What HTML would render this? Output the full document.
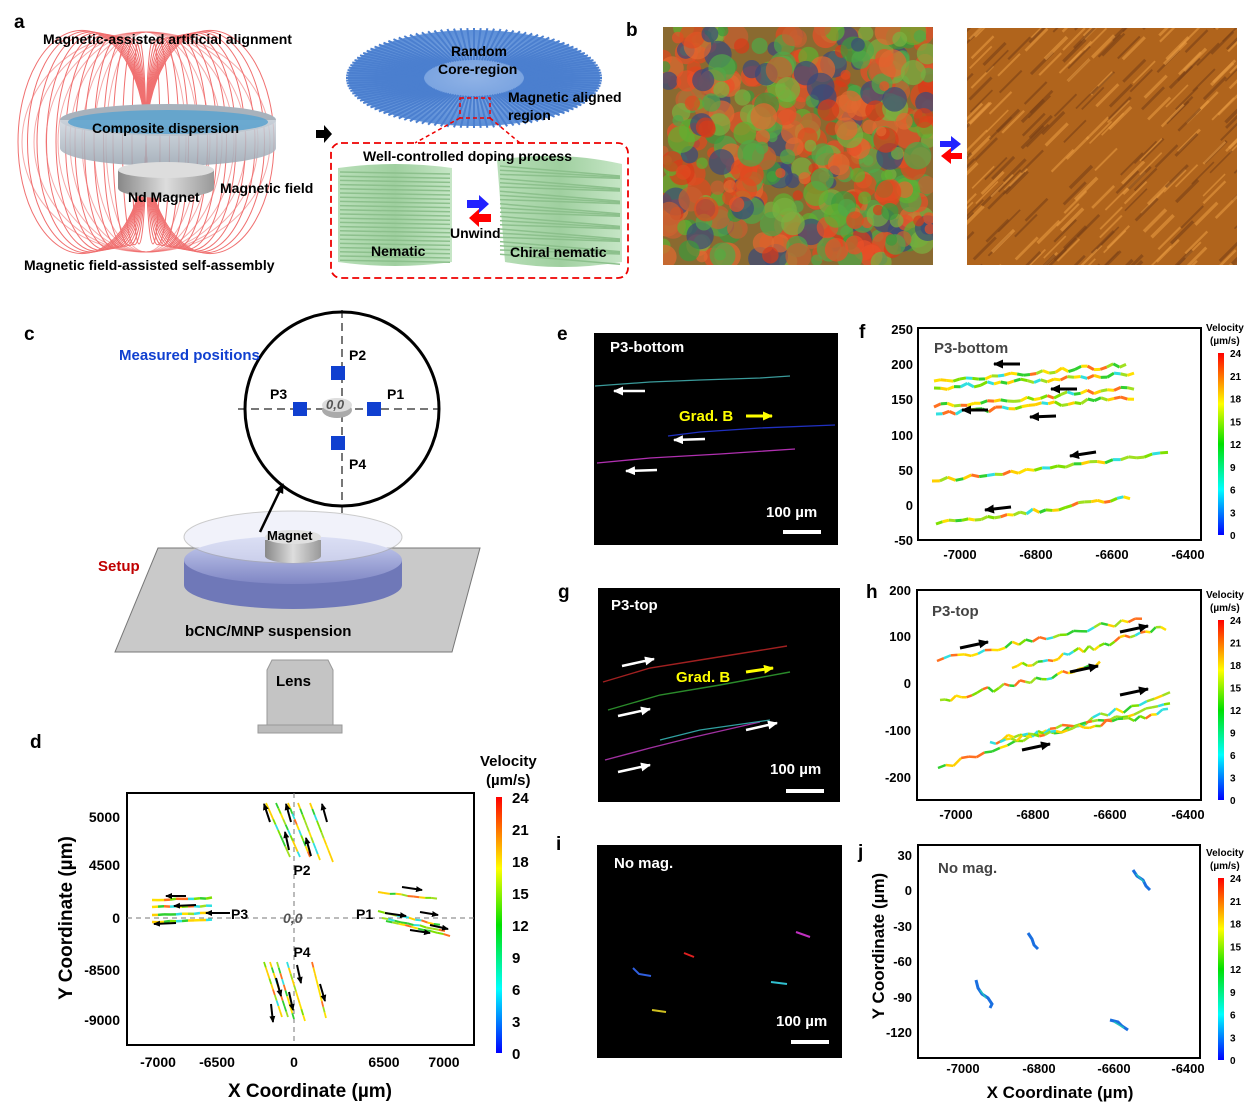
<!DOCTYPE html>
<html><head><meta charset="utf-8"><style>
html,body{margin:0;padding:0;background:#fff}
svg{display:block;font-family:"Liberation Sans",Arial,sans-serif;font-weight:bold}
</style></head><body>
<svg id="s" width="1252" height="1118" viewBox="0 0 1252 1118" xmlns="http://www.w3.org/2000/svg">
<defs>
<linearGradient id="cb" x1="0" y1="1" x2="0" y2="0">
<stop offset="0" stop-color="#0000ff"/><stop offset="0.25" stop-color="#00ffff"/><stop offset="0.5" stop-color="#00e000"/><stop offset="0.72" stop-color="#ffff00"/><stop offset="1" stop-color="#ff0000"/></linearGradient>
<linearGradient id="dish" x1="0" y1="0" x2="0" y2="1"><stop offset="0" stop-color="#cfd6de"/><stop offset="1" stop-color="#98a4b0"/></linearGradient>
<linearGradient id="mag" x1="0" y1="0" x2="1" y2="0"><stop offset="0" stop-color="#888"/><stop offset="0.5" stop-color="#ddd"/><stop offset="1" stop-color="#999"/></linearGradient>
<radialGradient id="bl" cx="0.5" cy="0.5" r="0.5"><stop offset="0" stop-color="#8fb2e6"/><stop offset="1" stop-color="#5c8fd8"/></radialGradient>
<linearGradient id="gr" x1="0" y1="0" x2="1" y2="0"><stop offset="0" stop-color="#b9dfb9"/><stop offset="0.5" stop-color="#9fcf9f"/><stop offset="1" stop-color="#c6e6c6"/></linearGradient>
<linearGradient id="setup" x1="0" y1="0" x2="0" y2="1"><stop offset="0" stop-color="#c9d0f0"/><stop offset="1" stop-color="#7f86c4"/></linearGradient>
<marker id="ak" markerUnits="userSpaceOnUse" markerWidth="10" markerHeight="9" refX="9" refY="4.5" orient="auto"><path d="M0,0 L10,4.5 L0,9 z" fill="#000"/></marker>
<marker id="aw" markerUnits="userSpaceOnUse" markerWidth="10" markerHeight="9" refX="9" refY="4.5" orient="auto"><path d="M0,0 L10,4.5 L0,9 z" fill="#fff"/></marker>
<marker id="ay" markerUnits="userSpaceOnUse" markerWidth="10" markerHeight="9" refX="9" refY="4.5" orient="auto"><path d="M0,0 L10,4.5 L0,9 z" fill="#ff0"/></marker>
<marker id="as" markerUnits="userSpaceOnUse" markerWidth="7" markerHeight="6" refX="6" refY="3" orient="auto"><path d="M0,0 L7,3 L0,6 z" fill="#000"/></marker>
<clipPath id="cl1"><rect x="663" y="27" width="270" height="238"/></clipPath>
<clipPath id="cl2"><rect x="967" y="28" width="270" height="237"/></clipPath>
</defs>

<g font-size="19" fill="#000">
<text x="14" y="28">a</text><text x="626" y="36">b</text><text x="24" y="340">c</text>
<text x="30" y="748">d</text><text x="557" y="340">e</text><text x="859" y="338">f</text>
<text x="558" y="598">g</text><text x="866" y="598">h</text><text x="556" y="850">i</text><text x="858" y="858">j</text>
</g>

<!-- panel a -->
<g id="field" fill="none" stroke="#f07070" stroke-width="1"></g>
<ellipse cx="168" cy="120" rx="108" ry="16" fill="#a8b2bc"/>
<path d="M60,120 L60,148 A108,18 0 0 0 276,148 L276,120 z" fill="url(#dish)" opacity="0.85"/>
<ellipse cx="168" cy="122" rx="100" ry="12" fill="#5ba2cf" opacity="0.85"/>
<path d="M118,170 L118,188 A48,10 0 0 0 214,188 L214,170 z" fill="url(#mag)"/>
<ellipse cx="166" cy="170" rx="48" ry="8" fill="#ddd"/>
<g font-size="14" fill="#000">
<text x="43" y="44">Magnetic-assisted artificial alignment</text>
<text x="92" y="133">Composite dispersion</text>
<text x="128" y="202">Nd Magnet</text>
<text x="220" y="193">Magnetic field</text>
<text x="24" y="270">Magnetic field-assisted self-assembly</text>
</g>
<path d="M316,130 l8,0 0,-5 8,9 -8,9 0,-5 -8,0z" fill="#000"/>
<ellipse cx="474" cy="78" rx="126" ry="48" fill="url(#bl)"/>
<g id="spikes" stroke="#4b7fcf" stroke-width="2"></g>
<rect x="460" y="98" width="30" height="20" fill="none" stroke="#e00" stroke-width="1.5" stroke-dasharray="4,3"/>
<path d="M460,118 L415,143 M490,118 L520,143" stroke="#e00" stroke-width="1.5" stroke-dasharray="4,3"/>
<rect x="331" y="143" width="297" height="135" rx="10" fill="none" stroke="#e00" stroke-width="1.8" stroke-dasharray="7,4"/>
<path d="M338,168 Q395,160 452,168 L452,262 Q395,270 338,262z" fill="url(#gr)"/>
<path d="M497,160 Q560,150 622,164 L622,262 Q560,272 505,262z" fill="url(#gr)"/>
<g id="gl" stroke="#8cc08c" stroke-width="1.5"></g>
<path d="M467,200 h12 v-5 l10,9 -10,9 v-5 h-12z" fill="#22f"/>
<path d="M491,214 h-12 v-5 l-10,9 10,9 v-5 h12z" fill="#f00"/>
<g font-size="14" fill="#000">
<text x="451" y="56">Random</text><text x="438" y="74">Core-region</text>
<text x="508" y="102">Magnetic aligned</text><text x="508" y="120">region</text>
<text x="363" y="161">Well-controlled doping process</text>
<text x="450" y="238">Unwind</text><text x="371" y="256">Nematic</text><text x="510" y="257">Chiral nematic</text>
</g>

<!-- panel b -->
<rect x="663" y="27" width="270" height="238" fill="#8a6a30"/>
<g id="b1" clip-path="url(#cl1)"></g>
<rect x="967" y="28" width="270" height="237" fill="#b0641c"/>
<g id="b2" clip-path="url(#cl2)"></g>
<path d="M940,141 h11 v-5 l10,8 -10,8 v-5 h-11z" fill="#22f"/>
<path d="M962,153 h-11 v-5 l-10,8 10,8 v-5 h11z" fill="#f00"/>

<!-- panel c -->
<path d="M158,548 L480,548 L452,652 L115,652z" fill="#c9c9c9" stroke="#777"/>
<path d="M184,560 L184,585 A109,24 0 0 0 402,585 L402,560z" fill="#6f78b8"/>
<ellipse cx="293" cy="560" rx="109" ry="24" fill="url(#setup)"/>
<ellipse cx="293" cy="537" rx="109" ry="26" fill="#e8eaf8" opacity="0.6" stroke="#aaa"/>
<path d="M265,540 L265,556 A28,7 0 0 0 321,556 L321,540z" fill="url(#mag)"/>
<ellipse cx="293" cy="537" rx="28" ry="7" fill="#e0e0e0"/>
<path d="M272,660 L328,660 L333,670 L333,725 L267,725 L267,670z" fill="#c4c4c4" stroke="#999"/>
<rect x="258" y="725" width="84" height="8" fill="#bbb" stroke="#999"/>
<path d="M342,310 V515 M238,409 H438" stroke="#777" stroke-width="2" stroke-dasharray="8,5"/>
<circle cx="342" cy="409" r="97" fill="none" stroke="#000" stroke-width="3"/>
<ellipse cx="337" cy="410" rx="15" ry="8" fill="#aaa"/><ellipse cx="337" cy="405" rx="15" ry="7" fill="#ddd"/>
<rect x="331" y="366" width="14" height="14" fill="#1040d0"/><rect x="331" y="436" width="14" height="14" fill="#1040d0"/>
<rect x="293" y="402" width="14" height="14" fill="#1040d0"/><rect x="367" y="402" width="14" height="14" fill="#1040d0"/>
<line x1="260" y1="532" x2="283" y2="484" stroke="#000" stroke-width="2.5" marker-end="url(#ak)"/>
<g font-size="14" fill="#000">
<text x="119" y="360" fill="#1040d0" font-size="15">Measured positions</text>
<text x="349" y="360">P2</text><text x="270" y="399">P3</text><text x="387" y="399">P1</text><text x="349" y="469">P4</text>
<text x="326" y="409" font-style="italic" fill="#555" font-size="13">0,0</text>
<text x="98" y="571" fill="#c00000" font-size="15">Setup</text>
<text x="267" y="540" font-size="13">Magnet</text>
<text x="185" y="636" font-size="15">bCNC/MNP suspension</text>
<text x="276" y="686" font-size="15">Lens</text>
</g>

<!-- panel d -->
<rect x="127" y="793" width="347" height="252" fill="none" stroke="#000" stroke-width="2"/>
<path d="M127,918 H474 M294,793 V1045" stroke="#777" stroke-dasharray="5,4"/>
<g id="dtraj" stroke-width="1.8" fill="none"></g>
<g stroke="#000" stroke-width="2">
<line x1="270" y1="822" x2="264" y2="804" marker-end="url(#as)"/><line x1="291" y1="822" x2="286" y2="804" marker-end="url(#as)"/><line x1="327" y1="822" x2="322" y2="804" marker-end="url(#as)"/>
<line x1="289" y1="850" x2="285" y2="832" marker-end="url(#as)"/><line x1="311" y1="856" x2="306" y2="838" marker-end="url(#as)"/>
<line x1="297" y1="965" x2="301" y2="983" marker-end="url(#as)"/><line x1="276" y1="978" x2="281" y2="996" marker-end="url(#as)"/><line x1="320" y1="984" x2="325" y2="1001" marker-end="url(#as)"/>
<line x1="289" y1="992" x2="293" y2="1010" marker-end="url(#as)"/><line x1="271" y1="1004" x2="273" y2="1022" marker-end="url(#as)"/>
<line x1="186" y1="896" x2="166" y2="896" marker-end="url(#as)"/><line x1="196" y1="905" x2="174" y2="906" marker-end="url(#as)"/><line x1="230" y1="913" x2="206" y2="913" marker-end="url(#as)"/><line x1="176" y1="923" x2="154" y2="924" marker-end="url(#as)"/>
<line x1="402" y1="887" x2="422" y2="890" marker-end="url(#as)"/><line x1="385" y1="913" x2="406" y2="916" marker-end="url(#as)"/><line x1="420" y1="912" x2="438" y2="915" marker-end="url(#as)"/>
<line x1="430" y1="925" x2="448" y2="929" marker-end="url(#as)"/><line x1="410" y1="930" x2="430" y2="933" marker-end="url(#as)"/></g>
<g font-size="14" fill="#000" text-anchor="end">
<text x="120" y="822">5000</text><text x="120" y="870">4500</text><text x="120" y="923">0</text>
<text x="120" y="975">-8500</text><text x="120" y="1025">-9000</text></g>
<g font-size="14" fill="#000" text-anchor="middle">
<text x="158" y="1067">-7000</text><text x="217" y="1067">-6500</text><text x="294" y="1067">0</text>
<text x="384" y="1067">6500</text><text x="444" y="1067">7000</text>
<text x="302" y="875">P2</text><text x="302" y="957">P4</text></g>
<g font-size="14" fill="#000"><text x="231" y="919">P3</text><text x="356" y="919">P1</text>
<text x="283" y="923" font-style="italic" fill="#555">0,0</text></g>
<text x="310" y="1097" font-size="19" text-anchor="middle">X Coordinate (µm)</text>
<text transform="translate(72,918) rotate(-90)" font-size="19" text-anchor="middle">Y Coordinate (µm)</text>
<rect x="496" y="797" width="6" height="256" fill="url(#cb)"/>
<g font-size="15" fill="#000"><text x="480" y="766">Velocity</text><text x="486" y="785">(µm/s)</text>
<text x="512" y="803">24</text><text x="512" y="835">21</text><text x="512" y="867">18</text><text x="512" y="899">15</text><text x="512" y="931">12</text><text x="512" y="963">9</text><text x="512" y="995">6</text><text x="512" y="1027">3</text><text x="512" y="1059">0</text></g>

<!-- panel e -->
<rect x="594" y="333" width="244" height="212" fill="#000"/>
<path d="M595,386 L650,382 L700,380 L760,378 L790,376" stroke="#3a9a9a" fill="none" stroke-width="1.3"/>
<path d="M668,436 L700,432 L760,428 L835,425" stroke="#2030c0" fill="none" stroke-width="1.3"/>
<path d="M597,463 L650,458 L720,454 L795,449" stroke="#b030b0" fill="none" stroke-width="1.3"/>
<g stroke="#fff" stroke-width="2.5"><line x1="645" y1="391" x2="614" y2="391" marker-end="url(#aw)"/><line x1="705" y1="439" x2="674" y2="440" marker-end="url(#aw)"/><line x1="657" y1="470" x2="626" y2="471" marker-end="url(#aw)"/></g>
<line x1="746" y1="416" x2="772" y2="416" stroke="#ff0" stroke-width="3" marker-end="url(#ay)"/>
<rect x="783" y="530" width="38" height="4" fill="#fff"/>
<g font-size="15"><text x="610" y="352" fill="#fff">P3-bottom</text><text x="679" y="421" fill="#ff0">Grad. B</text><text x="766" y="517" fill="#fff">100 µm</text></g>

<!-- panel g -->
<rect x="598" y="588" width="242" height="214" fill="#000"/>
<path d="M603,682 L650,668 L700,660 L787,646" stroke="#a02020" fill="none" stroke-width="1.4"/>
<path d="M608,710 L660,695 L720,685 L790,672" stroke="#2a8a2a" fill="none" stroke-width="1.4"/>
<path d="M605,760 L650,748 L690,738 L760,722" stroke="#a030a0" fill="none" stroke-width="1.4"/>
<path d="M660,740 L700,730 L770,720" stroke="#30a0a0" fill="none" stroke-width="1.2"/>
<g stroke="#fff" stroke-width="2.5"><line x1="622" y1="666" x2="654" y2="659" marker-end="url(#aw)"/><line x1="618" y1="716" x2="650" y2="709" marker-end="url(#aw)"/><line x1="746" y1="730" x2="777" y2="723" marker-end="url(#aw)"/><line x1="618" y1="772" x2="650" y2="765" marker-end="url(#aw)"/></g>
<line x1="746" y1="672" x2="773" y2="668" stroke="#ff0" stroke-width="3" marker-end="url(#ay)"/>
<rect x="786" y="789" width="38" height="4" fill="#fff"/>
<g font-size="15"><text x="611" y="610" fill="#fff">P3-top</text><text x="676" y="682" fill="#ff0">Grad. B</text><text x="770" y="774" fill="#fff">100 µm</text></g>

<!-- panel i -->
<rect x="597" y="845" width="245" height="213" fill="#000"/>
<path d="M684,953 l10,4" stroke="#e02020" stroke-width="2"/><path d="M633,968 l6,6 l12,2" stroke="#3060e0" stroke-width="2" fill="none"/>
<path d="M796,932 l14,5" stroke="#c030c0" stroke-width="2"/><path d="M771,982 l16,2" stroke="#30c0d0" stroke-width="2"/>
<path d="M652,1010 l14,2" stroke="#d0c020" stroke-width="2"/>
<rect x="791" y="1040" width="38" height="4" fill="#fff"/>
<g font-size="15" fill="#fff"><text x="614" y="868">No mag.</text><text x="776" y="1026">100 µm</text></g>

<!-- panel f -->
<rect x="918" y="328" width="283" height="212" fill="none" stroke="#000" stroke-width="2"/>
<g id="ftraj" fill="none" stroke-width="3"></g>
<g stroke="#000" stroke-width="3"><line x1="1020" y1="364" x2="994" y2="364" marker-end="url(#ak)"/><line x1="1077" y1="389" x2="1051" y2="389" marker-end="url(#ak)"/><line x1="988" y1="410" x2="962" y2="410" marker-end="url(#ak)"/><line x1="1056" y1="416" x2="1030" y2="417" marker-end="url(#ak)"/><line x1="1096" y1="452" x2="1070" y2="456" marker-end="url(#ak)"/><line x1="1011" y1="507" x2="985" y2="510" marker-end="url(#ak)"/></g>
<g font-size="13" fill="#000" text-anchor="end"><text x="913" y="334">250</text><text x="913" y="369">200</text><text x="913" y="404">150</text><text x="913" y="440">100</text><text x="913" y="475">50</text><text x="913" y="510">0</text><text x="913" y="545">-50</text></g>
<g font-size="13" fill="#000" text-anchor="middle"><text x="960" y="559">-7000</text><text x="1036" y="559">-6800</text><text x="1112" y="559">-6600</text><text x="1188" y="559">-6400</text></g>
<text x="934" y="353" font-size="15" fill="#444">P3-bottom</text>

<!-- panel h -->
<rect x="917" y="590" width="284" height="210" fill="none" stroke="#000" stroke-width="2"/>
<g id="htraj" fill="none" stroke-width="2.5"></g>
<g stroke="#000" stroke-width="3"><line x1="960" y1="648" x2="988" y2="642" marker-end="url(#ak)"/><line x1="1120" y1="632" x2="1148" y2="626" marker-end="url(#ak)"/><line x1="1070" y1="672" x2="1098" y2="666" marker-end="url(#ak)"/><line x1="1120" y1="695" x2="1148" y2="689" marker-end="url(#ak)"/><line x1="1022" y1="750" x2="1050" y2="744" marker-end="url(#ak)"/></g>
<g font-size="13" fill="#000" text-anchor="end"><text x="911" y="595">200</text><text x="911" y="641">100</text><text x="911" y="688">0</text><text x="911" y="735">-100</text><text x="911" y="782">-200</text></g>
<g font-size="13" fill="#000" text-anchor="middle"><text x="956" y="819">-7000</text><text x="1033" y="819">-6800</text><text x="1110" y="819">-6600</text><text x="1188" y="819">-6400</text></g>
<text x="932" y="616" font-size="15" fill="#444">P3-top</text>

<!-- panel j -->
<rect x="918" y="845" width="282" height="213" fill="none" stroke="#000" stroke-width="2"/>
<g stroke-width="3" fill="none" stroke="#1a6fe0">
<path d="M1133,870 l4,6 l6,4 l3,6 l4,4"/><path d="M1028,933 l4,6 l2,6 l4,4"/><path d="M976,980 l2,8 l4,6 l6,4 l4,6 l-2,4"/><path d="M1110,1020 l8,2 l4,4 l6,4"/></g>
<g stroke-width="1.5" fill="none" stroke="#20c0c0"><path d="M1136,874 l8,8"/><path d="M980,990 l6,8"/><path d="M1114,1022 l10,6"/></g>
<g font-size="13" fill="#000" text-anchor="end"><text x="912" y="860">30</text><text x="912" y="895">0</text><text x="912" y="931">-30</text><text x="912" y="966">-60</text><text x="912" y="1002">-90</text><text x="912" y="1037">-120</text></g>
<g font-size="13" fill="#000" text-anchor="middle"><text x="963" y="1073">-7000</text><text x="1039" y="1073">-6800</text><text x="1114" y="1073">-6600</text><text x="1188" y="1073">-6400</text></g>
<text x="938" y="873" font-size="15" fill="#444">No mag.</text>
<text x="1060" y="1098" font-size="17" text-anchor="middle">X Coordinate (µm)</text>
<text transform="translate(884,946) rotate(-90)" font-size="17" text-anchor="middle">Y Coordinate (µm)</text>

<g id="cbs"></g>
</svg>
<script>
var S='http://www.w3.org/2000/svg';
function el(p,t,a){var e=document.createElementNS(S,t);for(var k in a)e.setAttribute(k,a[k]);document.getElementById(p).appendChild(e);return e;}
var seed=7;function r(){seed=(seed*16807)%2147483647;return seed/2147483647;}
for(var i=0;i<13;i++){var w=14+i*9.5;el('field','ellipse',{cx:146-w/2,cy:142,rx:w/2,ry:102+i*0.8});el('field','ellipse',{cx:146+w/2,cy:142,rx:w/2,ry:102+i*0.8});}
for(var i=0;i<8;i++){var w=40+i*12;el('field','ellipse',{cx:146,cy:142,rx:w,ry:110,opacity:0.6});}
for(var i=0;i<120;i++){var a=i/120*Math.PI*2;var x1=474+Math.cos(a)*50,y1=78+Math.sin(a)*18,x2=474+Math.cos(a)*128,y2=78+Math.sin(a)*50;el('spikes','line',{x1:x1,y1:y1,x2:x2,y2:y2});}
for(var i=0;i<22;i++){var y=172+i*4.2;el('gl','line',{x1:340,y1:y,x2:450,y2:y+2});el('gl','line',{x1:500,y1:y-6,x2:620,y2:y+4-(i%3)*3});}
var cols=['#e04a20','#d83a18','#60b030','#3c9a3c','#c86030','#7ab040','#e85028','#e06a30','#50a848','#3a4a7a'];
for(var i=0;i<480;i++){el('b1','circle',{cx:663+r()*270,cy:27+r()*238,r:5+r()*9,fill:cols[Math.floor(r()*10)],opacity:0.7});}
for(var i=0;i<260;i++){var x=967+r()*300-30,y=28+r()*260;el('b2','line',{x1:x,y1:y,x2:x+22,y2:y-22,stroke:r()<0.5?'#e89a40':'#7a4016','stroke-width':1.5+r()*2,opacity:0.6});}
function vc(v){var c=['#ffd000','#7ee000','#30d030','#ffe000','#ff7020','#30e0e0','#a0e020'];return c[Math.floor(v*c.length)%c.length];}
function traj(g,x1,y1,x2,y2,n,amp,sw){var px=x1,py=y1;for(var i=1;i<=n;i++){var x=x1+(x2-x1)*i/n,y=y1+(y2-y1)*i/n+(r()-0.5)*amp;el(g,'line',{x1:px,y1:py,x2:x,y2:y,stroke:vc(r()),'stroke-width':sw});px=x;py=y;}}
[[266,803,290,857],[276,803,300,857],[288,803,310,857],[298,803,320,860],[310,803,333,862]].forEach(function(t){traj('dtraj',t[0],t[1],t[2],t[3],10,0,1.8);});
[[264,962,282,1017],[270,962,288,1017],[277,962,294,1019],[287,962,305,1021],[312,962,326,1018]].forEach(function(t){traj('dtraj',t[0],t[1],t[2],t[3],10,0,1.8);});
[[152,900,212,898],[152,907,212,906],[152,915,212,913],[152,922,212,920]].forEach(function(t){traj('dtraj',t[0],t[1],t[2],t[3],10,1,2.5);});
[[378,892,437,899],[378,911,440,925],[382,918,445,931],[386,921,450,936]].forEach(function(t){traj('dtraj',t[0],t[1],t[2],t[3],10,1,2);});
[[934,381,1126,365],[934,388,1134,373],[934,407,1134,388],[936,414,1134,397],[932,481,1168,454],[936,524,1130,498]].forEach(function(t){traj('ftraj',t[0],t[1],t[2],t[3],30,5,3);});
[[937,661,1142,618],[1012,668,1166,628],[940,700,1100,665],[938,768,1170,695],[990,742,1170,705],[1000,742,1168,712]].forEach(function(t){traj('htraj',t[0],t[1],t[2],t[3],30,7,2.5);});
[[1218,353,182,327],[1218,620,180,594],[1218,878,182,852]].forEach(function(c){
el('cbs','rect',{x:c[0],y:c[1],width:6,height:c[2],fill:'url(#cb)'});
var t=el('cbs','text',{x:1206,y:c[3]+4,'font-size':10});t.textContent='Velocity';
t=el('cbs','text',{x:1210,y:c[3]+17,'font-size':10});t.textContent='(µm/s)';
for(var k=0;k<=8;k++){t=el('cbs','text',{x:1230,y:c[1]+c[2]-k*c[2]/8+4,'font-size':10});t.textContent=String(k*3);}
});
</script>
</body></html>
